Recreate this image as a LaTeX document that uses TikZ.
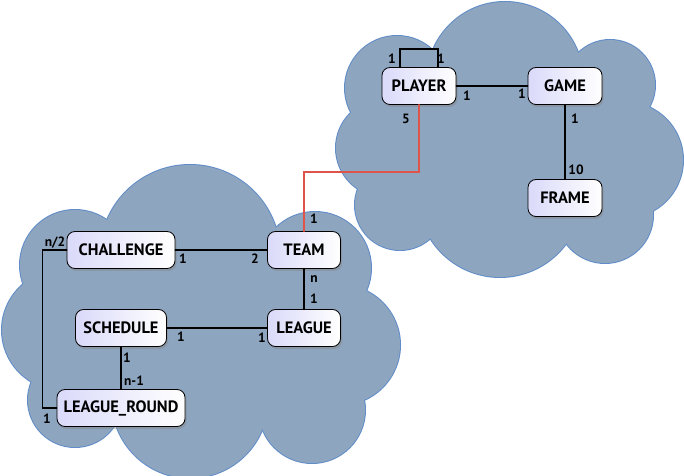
\documentclass[tikz,border=0pt]{standalone}
\usepackage{fontspec}
\setmainfont{PT Sans}
\usetikzlibrary{shadows}
\definecolor{cloudfill}{RGB}{142,165,191}
\definecolor{cloudline}{RGB}{96,140,200}
\definecolor{boxleft}{RGB}{218,218,250}
\definecolor{linkred}{RGB}{222,84,74}

\begin{document}
\begin{tikzpicture}[line cap=round,line join=miter,x=1bp,y=-1bp,
  entity/.style={draw=black,line width=0.8bp,rounded corners=8bp,left color=boxleft,right color=white,
    minimum width=74bp,minimum height=37bp,inner sep=2bp,font=\fontsize{16.5}{19}\selectfont\bfseries,
    drop shadow={shadow xshift=1.5bp,shadow yshift=-2.5bp,opacity=0.4}},
  rel/.style={line width=1.7bp,color=black},
  crossrel/.style={line width=1.7bp,color=linkred},
  card/.style={font=\fontsize{13.5}{15}\selectfont\bfseries,inner sep=0pt},
  cloudedge/.style={draw=cloudline,line width=2bp,fill=cloudfill},
  cloudbody/.style={fill=cloudfill}]
\useasboundingbox (0,0) rectangle (684,476);
% clouds
\foreach \cx/\cy/\r in {190/255/90,315/268/56,340/345/60,312/410/53,190/400/78,75/400/47,62/330/60,75/265/55,
                        505/80/78,397/88/52,385/148/49,400/205/45,500/195/82,605/215/48,625/160/58,610/85/45}
  \draw[cloudedge] (\cx,\cy) circle (\r bp);
\foreach \cx/\cy/\r in {190/255/90,315/268/56,340/345/60,312/410/53,190/400/78,75/400/47,62/330/60,75/265/55,200/330/110,
                        505/80/78,397/88/52,385/148/49,400/205/45,500/195/82,605/215/48,625/160/58,610/85/45,510/150/100}
  \fill[cloudbody] (\cx,\cy) circle (\r bp);
% entities
\node[entity] (player) at (419,86) {PLAYER};
\node[entity] (game) at (565,86) {GAME};
\node[entity] (frame) at (565,198) {FRAME};
\node[entity,minimum width=108bp] (challenge) at (121,250) {CHALLENGE};
\node[entity,minimum width=73bp] (team) at (304,250) {TEAM};
\node[entity,minimum width=91bp] (schedule) at (121,328) {SCHEDULE};
\node[entity,minimum width=73bp] (league) at (304,328) {LEAGUE};
\node[entity,minimum width=128bp] (lround) at (121,408) {LEAGUE\_ROUND};
% relations
\draw[rel] ([xshift=-19bp]player.north) -- ++(0,-18) -| ([xshift=19bp]player.north);
\draw[rel] (player.east) -- (game.west);
\draw[rel] (game.south) -- (frame.north);
\draw[crossrel] (player.south) -- ++(0,67) -| (team.north);
\draw[rel] (challenge.east) -- (team.west);
\draw[rel] (team.south) -- (league.north);
\draw[rel] (schedule.east) -- (league.west);
\draw[rel] (schedule.south) -- (lround.north);
\draw[rel] (challenge.west) -- ++(-24,0) |- (lround.west);
% cardinalities
\node[card] (cpl) at (392,59) {1};
\node[card] (cpr) at (441,59) {1};
\node[card] (cpg) at (467,96) {1};
\node[card] (cgp) at (522,94) {1};
\node[card] (cgf) at (575,119) {1};
\node[card] (cfg) at (576,170) {10};
\node[card] (cpt) at (406,119) {5};
\node[card] (ctp) at (314,219) {1};
\node[card] (cct) at (183,259) {1};
\node[card] (ctc) at (255,259) {2};
\node[card] (ctl) at (314,279) {n};
\node[card] (clt) at (314,299) {1};
\node[card] (csl) at (181,337) {1};
\node[card] (cls) at (262,338) {1};
\node[card] (csr) at (127,358) {1};
\node[card] (crs) at (134,381) {n-1};
\node[card] (ccr) at (55,243) {n/2};
\node[card] (crc) at (47,419) {1};
\end{tikzpicture}
\end{document}
